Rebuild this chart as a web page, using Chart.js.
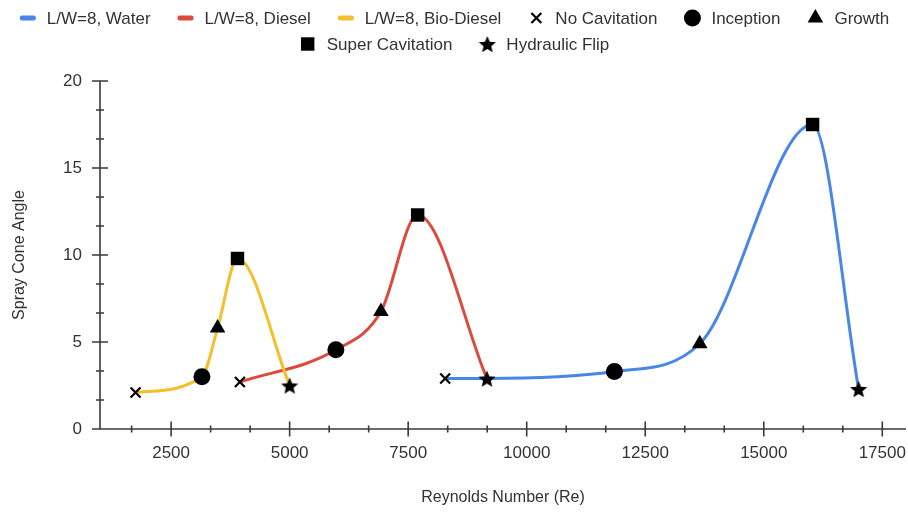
<!DOCTYPE html>
<html>
<head>
<meta charset="utf-8">
<title>Spray Cone Angle vs Reynolds Number</title>
<script src="https://cdn.jsdelivr.net/npm/chart.js@4.4.1/dist/chart.umd.min.js"></script>
<style>
  html, body { margin: 0; padding: 0; background: #ffffff; }
  #wrap { width: 908px; height: 512px; position: relative; }
</style>
</head>
<body>
<div id="wrap"><canvas id="chart"></canvas></div>
<script>
// ---- data -------------------------------------------------------------
// Reynolds number, spray cone angle and cavitation regime per measurement
const waterRe    = [8280, 9160, 11850, 13650, 16030, 17000];
const waterAngle = [2.9, 2.9, 3.3, 4.9, 17.5, 2.3];
const waterStage = ['none', null, 'inception', 'growth', 'super', 'flip'];

const dieselRe    = [3950, 5975, 6925, 7700, 9160];
const dieselAngle = [2.7, 4.55, 6.75, 12.3, 2.9];
const dieselStage = ['none', 'inception', 'growth', 'super', 'flip'];

const bioRe    = [1750, 3150, 3480, 3900, 5000];
const bioAngle = [2.1, 3.0, 5.8, 9.8, 2.5];
const bioStage = ['none', 'inception', 'growth', 'super', 'flip'];

const seriesLabels = ['L/W=8, Water', 'L/W=8, Diesel', 'L/W=8, Bio-Diesel'];
const stageKeys    = ['none', 'inception', 'growth', 'super', 'flip'];
const stageLabels  = ['No Cavitation', 'Inception', 'Growth', 'Super Cavitation', 'Hydraulic Flip'];

const xMajorTicks = [2500, 5000, 7500, 10000, 12500, 15000, 17500];
const yMajorTicks = [0, 5, 10, 15, 20];

// ---- styling ----------------------------------------------------------
const FONT = '"Liberation Sans", Arial, sans-serif';
const TEXT = '#333333';
const AXIS = '#3a3a3a';
const seriesColors = ['#4a86e8', '#dc4a3d', '#f1c02a'];

// filled five-point star used for the hydraulic flip marker
function makeStar(d) {
  const c = document.createElement('canvas');
  c.width = d; c.height = d;
  const g = c.getContext('2d');
  const R = d / 2, r = R * 0.45;
  g.beginPath();
  for (let i = 0; i < 10; i++) {
    const a = -Math.PI / 2 + i * Math.PI / 5;
    const rr = i % 2 ? r : R;
    g.lineTo(R + rr * Math.cos(a), R + 1 + rr * Math.sin(a));
  }
  g.closePath();
  g.fillStyle = '#000';
  g.fill();
  return c;
}
const starImg = makeStar(18);

const stageStyle = {
  none:      { pointStyle: 'crossRot', radius: 7,   borderWidth: 2.2 },
  inception: { pointStyle: 'circle',   radius: 8.5, borderWidth: 0 },
  growth:    { pointStyle: 'triangle', radius: 9,   borderWidth: 0 },
  super:     { pointStyle: 'rect',     radius: 9.5, borderWidth: 0 },
  flip:      { pointStyle: starImg,    radius: 9,   borderWidth: 0 }
};

// ---- datasets ---------------------------------------------------------
const seriesTable = [
  { re: waterRe,  angle: waterAngle,  stage: waterStage },
  { re: dieselRe, angle: dieselAngle, stage: dieselStage },
  { re: bioRe,    angle: bioAngle,    stage: bioStage }
];

const lineSets = seriesTable.map((s, i) => ({
  label: seriesLabels[i],
  data: s.re.map((x, k) => ({ x: x, y: s.angle[k] })),
  showLine: true,
  borderColor: seriesColors[i],
  backgroundColor: seriesColors[i],
  borderWidth: 3,
  pointRadius: 0,
  pointHoverRadius: 0,
  cubicInterpolationMode: 'monotone',
  fill: false,
  order: 10 - i
}));

const markerSets = stageKeys.map((key, j) => {
  const pts = [];
  seriesTable.forEach(s => {
    s.stage.forEach((st, k) => {
      if (st === key) pts.push({ x: s.re[k], y: s.angle[k] });
    });
  });
  const st = stageStyle[key];
  return {
    label: stageLabels[j],
    data: pts,
    showLine: false,
    pointStyle: st.pointStyle,
    pointRadius: st.radius,
    pointHoverRadius: st.radius,
    pointBorderWidth: st.borderWidth,
    pointBackgroundColor: '#000',
    pointBorderColor: '#000',
    order: 0
  };
});

// ---- axis lines, crossing major / minor tick marks, x tick labels -------
const axisFrame = {
  id: 'axisFrame',
  afterDraw(chart) {
    const { ctx, scales: { x, y } } = chart;
    const left = x.getPixelForValue(x.min);
    const right = x.getPixelForValue(x.max);
    const base = y.getPixelForValue(y.min);
    const top = y.getPixelForValue(y.max);
    ctx.save();
    ctx.strokeStyle = AXIS;
    ctx.lineWidth = 1.6;
    ctx.lineCap = 'butt';
    ctx.beginPath();
    ctx.moveTo(left, top); ctx.lineTo(left, base);
    ctx.moveTo(left, base); ctx.lineTo(right, base);
    // y ticks
    const yStep = 5 / 3;
    for (let v = 0; v <= y.max + 1e-6; v += yStep) {
      const major = Math.abs(v - Math.round(v / 5) * 5) < 1e-6;
      const py = y.getPixelForValue(v);
      const len = major ? 8 : 4;
      ctx.moveTo(left - len, py); ctx.lineTo(left + (v === 0 ? 0 : len), py);
    }
    // x ticks
    const xStep = 2500 / 3;
    for (let v = xStep * Math.ceil(x.min / xStep); v <= x.max + 1e-6; v += xStep) {
      const major = Math.abs(v - Math.round(v / 2500) * 2500) < 1e-3;
      const px = x.getPixelForValue(v);
      const len = major ? 7.5 : 3.5;
      ctx.moveTo(px, base - len); ctx.lineTo(px, base + len);
    }
    ctx.stroke();
    // x tick labels
    ctx.fillStyle = TEXT;
    ctx.font = '17px ' + FONT;
    ctx.textAlign = 'center';
    ctx.textBaseline = 'middle';
    xMajorTicks.forEach(v => ctx.fillText(String(v), x.getPixelForValue(v), base + 24));
    ctx.restore();
  }
};

// ---- centred two-row legend -------------------------------------------
const legendRows = {
  id: 'legendRows',
  afterDraw(chart) {
    const ctx = chart.ctx;
    const BOX = 18, GAP = 10, ITEM_GAP = 26, ROW_Y = 18, ROW_H = 26;
    ctx.save();
    ctx.font = '17px ' + FONT;
    ctx.textBaseline = 'middle';
    ctx.textAlign = 'left';
    const items = chart.data.datasets.map(ds => ({
      ds: ds, w: BOX + GAP + ctx.measureText(ds.label).width
    }));
    const maxW = chart.width - 10;
    const rows = [];
    let cur = [], curW = 0;
    items.forEach(it => {
      const add = (cur.length ? ITEM_GAP : 0) + it.w;
      if (cur.length && curW + add > maxW) {
        rows.push({ items: cur, w: curW });
        cur = [it]; curW = it.w;
      } else { cur.push(it); curW += add; }
    });
    if (cur.length) rows.push({ items: cur, w: curW });

    rows.forEach((row, r) => {
      let xx = (chart.width - row.w) / 2;
      const yy = ROW_Y + r * ROW_H;
      row.items.forEach(it => {
        const ds = it.ds;
        const cx = xx + BOX / 2;
        if (ds.showLine) {
          ctx.fillStyle = ds.borderColor;
          ctx.beginPath();
          ctx.roundRect(xx + 1, yy - 2.5, BOX - 2, 5, 2);
          ctx.fill();
        } else {
          ctx.fillStyle = '#000';
          ctx.strokeStyle = '#000';
          ctx.lineWidth = ds.pointBorderWidth;
          Chart.helpers.drawPoint(ctx, {
            pointStyle: ds.pointStyle, radius: ds.pointRadius,
            borderWidth: ds.pointBorderWidth, rotation: 0
          }, cx, yy);
        }
        ctx.fillStyle = TEXT;
        ctx.fillText(ds.label, xx + BOX + GAP, yy + 1);
        xx += it.w + ITEM_GAP;
      });
    });
    ctx.restore();
  }
};

// ---- chart --------------------------------------------------------------
new Chart(document.getElementById('chart'), {
  type: 'scatter',
  data: { datasets: lineSets.concat(markerSets) },
  plugins: [axisFrame, legendRows],
  options: {
    responsive: true,
    maintainAspectRatio: false,
    animation: false,
    events: [],
    layout: { autoPadding: false, padding: { top: 81, right: 2, left: 0, bottom: 0 } },
    plugins: { legend: { display: false }, tooltip: { enabled: false } },
    scales: {
      x: {
        type: 'linear',
        min: 1000,
        max: 18000,
        afterBuildTicks: scale => { scale.ticks = xMajorTicks.map(v => ({ value: v })); },
        afterFit: scale => { scale.height = 83; },
        grid: { display: false, drawTicks: false },
        border: { display: false },
        ticks: { display: false },
        title: {
          display: true, text: 'Reynolds Number (Re)', color: TEXT,
          font: { family: FONT, size: 16 }, padding: { top: 0, bottom: 5 }
        }
      },
      y: {
        type: 'linear',
        min: 0,
        max: 20,
        afterBuildTicks: scale => { scale.ticks = yMajorTicks.map(v => ({ value: v })); },
        afterFit: scale => { scale.width = 100; },
        grid: { display: false, drawTicks: false },
        border: { display: false },
        ticks: {
          color: TEXT, font: { family: FONT, size: 17 }, padding: 18,
          callback: v => String(v)
        },
        title: {
          display: true, text: 'Spray Cone Angle', color: TEXT,
          font: { family: FONT, size: 16 }, padding: { top: 10, bottom: 0 }
        }
      }
    }
  }
});
</script>
</body>
</html>
